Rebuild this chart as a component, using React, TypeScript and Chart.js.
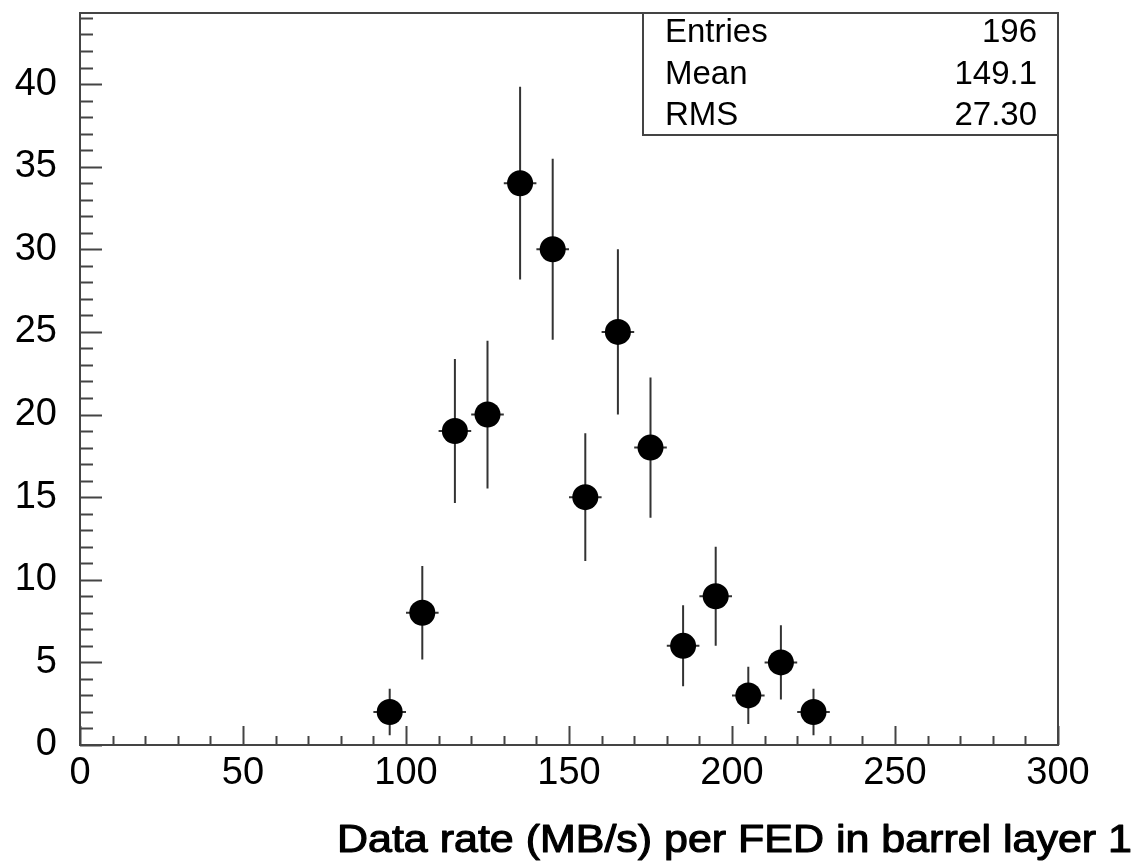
import React, { useEffect, useRef } from "react";
import { Chart, registerables } from "chart.js";

Chart.register(...registerables);

// ---- data ----
const binCenters = [95, 105, 115, 125, 135, 145, 155, 165, 175, 185, 195, 205, 215, 225];
const counts = [2, 8, 19, 20, 34, 30, 15, 25, 18, 6, 9, 3, 5, 2];
const countErrors = [1.41, 2.83, 4.36, 4.47, 5.83, 5.48, 3.87, 5.0, 4.24, 2.45, 3.0, 1.73, 2.24, 1.41];
const binHalfWidth = 5;

const xMin = 0;
const xMax = 300;
const xMajorStep = 50;
const xMinorStep = 10;
const yMin = 0;
const yMax = 44.3;
const yMajorStep = 5;
const yMinorStep = 1;

const statsLabels = ["Entries", "Mean", "RMS"];
const statsValues = ["196", "149.1", "27.30"];
const xTitle = "Data rate (MB/s) per FED in barrel layer 1";

const FONT = '"Liberation Sans", Arial, Helvetica, sans-serif';

const rootStylePlugin = {
  id: "rootStyle",
  beforeDatasetsDraw(chart: any) {
    const { ctx, scales } = chart;
    const x = scales.x;
    const y = scales.y;
    ctx.save();
    ctx.strokeStyle = "#333";
    ctx.lineWidth = 2;
    binCenters.forEach((c, i) => {
      const px = x.getPixelForValue(c);
      const py = y.getPixelForValue(counts[i]);
      ctx.beginPath();
      ctx.moveTo(px, y.getPixelForValue(counts[i] - countErrors[i]));
      ctx.lineTo(px, y.getPixelForValue(counts[i] + countErrors[i]));
      ctx.moveTo(x.getPixelForValue(c - binHalfWidth), py);
      ctx.lineTo(x.getPixelForValue(c + binHalfWidth), py);
      ctx.stroke();
    });
    ctx.restore();
  },
  afterDraw(chart: any) {
    const { ctx, chartArea, scales } = chart;
    const x = scales.x;
    const y = scales.y;
    const { left, right, top, bottom } = chartArea;
    ctx.save();
    // frame
    ctx.strokeStyle = "#444";
    ctx.lineWidth = 2;
    ctx.strokeRect(left, top, right - left, bottom - top);

    // ticks
    ctx.beginPath();
    for (let v = xMin; v <= xMax + 1e-9; v += xMinorStep) {
      const px = Math.round(x.getPixelForValue(v)) + 0.5;
      const len = v % xMajorStep === 0 ? 19 : 9;
      ctx.moveTo(px, bottom);
      ctx.lineTo(px, bottom - len);
    }
    for (let v = yMin; v <= yMax + 1e-9; v += yMinorStep) {
      const py = Math.round(y.getPixelForValue(v)) + 0.5;
      const len = v % yMajorStep === 0 ? 22 : 13;
      ctx.moveTo(left, py);
      ctx.lineTo(left + len, py);
    }
    ctx.stroke();

    // stats box
    const boxLeft = 643;
    const boxBottom = 135;
    ctx.fillStyle = "#fff";
    ctx.fillRect(boxLeft, top, right - boxLeft, boxBottom - top);
    ctx.strokeStyle = "#444";
    ctx.strokeRect(boxLeft, top, right - boxLeft, boxBottom - top);
    ctx.fillStyle = "#000";
    ctx.font = `33px ${FONT}`;
    ctx.textBaseline = "alphabetic";
    const baselines = [42, 83.5, 125];
    statsLabels.forEach((lab, i) => {
      ctx.textAlign = "left";
      ctx.fillText(lab, 665, baselines[i]);
      ctx.textAlign = "right";
      ctx.fillText(statsValues[i], 1037, baselines[i]);
    });

    // x-axis title (right aligned, as in ROOT)
    ctx.font = `38px ${FONT}`;
    const w = ctx.measureText(xTitle).width;
    const targetW = 795;
    ctx.translate(1132, 852);
    ctx.scale(targetW / w, 1);
    ctx.textAlign = "right";
    ctx.fillText(xTitle, 0, 0);
    ctx.strokeStyle = "#000";
    ctx.lineWidth = 1.1;
    ctx.lineJoin = "round";
    ctx.strokeText(xTitle, 0, 0);
    ctx.restore();
  },
};

export default function App() {
  const canvasRef = useRef<HTMLCanvasElement | null>(null);

  useEffect(() => {
    const canvas = canvasRef.current;
    if (!canvas) return;
    const chart = new Chart(canvas, {
      type: "scatter",
      data: {
        datasets: [
          {
            data: binCenters.map((c, i) => ({ x: c, y: counts[i] })),
            pointRadius: 13,
            pointBackgroundColor: "#000",
            pointBorderColor: "#000",
            pointBorderWidth: 0,
            showLine: false,
          },
        ],
      },
      options: {
        animation: false,
        responsive: false,
        maintainAspectRatio: false,
        devicePixelRatio: 1,
        events: [],
        layout: { padding: { top: 9, right: 83, left: 0, bottom: 0 } },
        plugins: {
          legend: { display: false },
          tooltip: { enabled: false },
        },
        scales: {
          x: {
            type: "linear",
            min: xMin,
            max: xMax,
            grid: { display: false, drawTicks: false },
            border: { display: false },
            ticks: {
              stepSize: xMajorStep,
              autoSkip: false,
              maxRotation: 0,
              includeBounds: false,
              padding: 6,
              color: "#000",
              font: { family: FONT, size: 38 },
            },
            afterFit(s: any) {
              s.height = 119;
              s.paddingLeft = 0;
              s.paddingRight = 0;
            },
          },
          y: {
            type: "linear",
            min: yMin,
            max: yMax,
            grid: { display: false, drawTicks: false },
            border: { display: false },
            ticks: {
              stepSize: yMajorStep,
              autoSkip: false,
              includeBounds: false,
              padding: 23,
              color: "#000",
              font: { family: FONT, size: 38 },
            },
            afterFit(s: any) {
              s.width = 80;
              s.paddingTop = 0;
              s.paddingBottom = 0;
            },
          },
        },
      },
      plugins: [rootStylePlugin],
    });
    return () => chart.destroy();
  }, []);

  return (
    <div style={{ position: "fixed", left: 0, top: 0, width: 1141, height: 864, background: "#fff" }}>
      <canvas ref={canvasRef} width={1141} height={864} style={{ display: "block" }} />
    </div>
  );
}
